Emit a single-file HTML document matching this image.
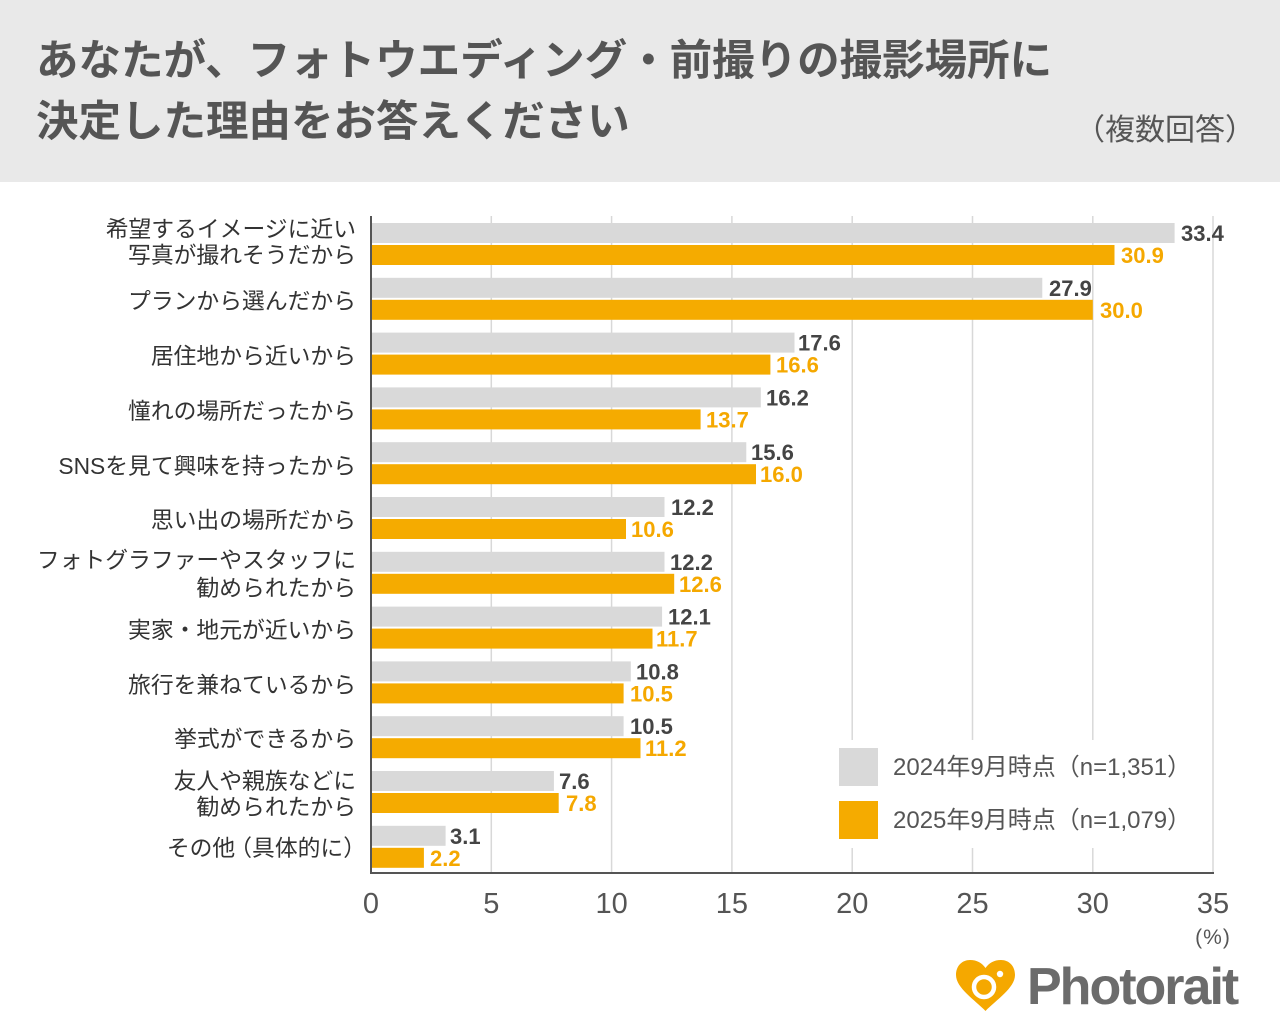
<!DOCTYPE html>
<html>
<head>
<meta charset="utf-8">
<style>
html,body{margin:0;padding:0;background:#fff;}
body{width:1280px;height:1036px;overflow:hidden;}
svg{display:block;}
text{font-family:"Liberation Sans","Noto Sans CJK JP",sans-serif;}
</style>
</head>
<body>
<svg width="1280" height="1036" viewBox="0 0 1280 1036" xmlns="http://www.w3.org/2000/svg">
  <!-- header -->
  <rect x="0" y="0" width="1280" height="182" fill="#e9e9e9"/>
  <text x="36" y="75" font-size="42.5" font-weight="bold" fill="#555">あなたが、フォトウエディング・前撮りの撮影場所に</text>
  <text x="36" y="136" font-size="42.5" font-weight="bold" fill="#555">決定した理由をお答えください</text>
  <text x="1255" y="140" font-size="30" fill="#555" text-anchor="end">（複数回答）</text>

  <!-- gridlines -->
  <g stroke="#d8d8d8" stroke-width="1.5">
    <line x1="491.3" y1="216" x2="491.3" y2="873"/>
    <line x1="611.6" y1="216" x2="611.6" y2="873"/>
    <line x1="731.9" y1="216" x2="731.9" y2="873"/>
    <line x1="852.2" y1="216" x2="852.2" y2="873"/>
    <line x1="972.5" y1="216" x2="972.5" y2="873"/>
    <line x1="1092.8" y1="216" x2="1092.8" y2="873"/>
    <line x1="1213" y1="216" x2="1213" y2="873"/>
  </g>

  <!-- legend box (white, covers gridlines) -->
  <rect x="832" y="740" width="370" height="108" fill="#fff"/>
  <rect x="839" y="748" width="39" height="38" fill="#d9d9d9"/>
  <rect x="839" y="801" width="39" height="38" fill="#f5ab00"/>
  <text x="893" y="775" font-size="24" fill="#555">2024年9月時点（n=1,351）</text>
  <text x="893" y="828" font-size="24" fill="#555">2025年9月時点（n=1,079）</text>

  <!-- bars -->
  <g>
    <rect x="371" y="223" width="803.6" height="20" fill="#d9d9d9"/>
    <rect x="371" y="245" width="743.5" height="20" fill="#f5ab00"/>
    <rect x="371" y="277.8" width="671.3" height="20" fill="#d9d9d9"/>
    <rect x="371" y="299.8" width="721.8" height="20" fill="#f5ab00"/>
    <rect x="371" y="332.6" width="423.5" height="20" fill="#d9d9d9"/>
    <rect x="371" y="354.6" width="399.4" height="20" fill="#f5ab00"/>
    <rect x="371" y="387.4" width="389.8" height="20" fill="#d9d9d9"/>
    <rect x="371" y="409.4" width="329.6" height="20" fill="#f5ab00"/>
    <rect x="371" y="442.2" width="375.3" height="20" fill="#d9d9d9"/>
    <rect x="371" y="464.2" width="385.0" height="20" fill="#f5ab00"/>
    <rect x="371" y="497" width="293.5" height="20" fill="#d9d9d9"/>
    <rect x="371" y="519" width="255.0" height="20" fill="#f5ab00"/>
    <rect x="371" y="551.8" width="293.5" height="20" fill="#d9d9d9"/>
    <rect x="371" y="573.8" width="303.2" height="20" fill="#f5ab00"/>
    <rect x="371" y="606.6" width="291.1" height="20" fill="#d9d9d9"/>
    <rect x="371" y="628.6" width="281.5" height="20" fill="#f5ab00"/>
    <rect x="371" y="661.4" width="259.8" height="20" fill="#d9d9d9"/>
    <rect x="371" y="683.4" width="252.6" height="20" fill="#f5ab00"/>
    <rect x="371" y="716.2" width="252.6" height="20" fill="#d9d9d9"/>
    <rect x="371" y="738.2" width="269.5" height="20" fill="#f5ab00"/>
    <rect x="371" y="771" width="182.9" height="20" fill="#d9d9d9"/>
    <rect x="371" y="793" width="187.7" height="20" fill="#f5ab00"/>
    <rect x="371" y="825.8" width="74.6" height="20" fill="#d9d9d9"/>
    <rect x="371" y="847.8" width="52.9" height="20" fill="#f5ab00"/>
  </g>

  <!-- value labels -->
  <g font-size="22" font-weight="bold">
    <g fill="#444">
      <text x="1181" y="241">33.4</text>
      <text x="1049" y="295.8">27.9</text>
      <text x="798" y="350.6">17.6</text>
      <text x="766" y="405.4">16.2</text>
      <text x="751" y="460.2">15.6</text>
      <text x="671" y="515">12.2</text>
      <text x="670" y="569.8">12.2</text>
      <text x="668" y="624.6">12.1</text>
      <text x="636" y="679.4">10.8</text>
      <text x="630" y="734.2">10.5</text>
      <text x="559" y="789">7.6</text>
      <text x="450" y="843.8">3.1</text>
    </g>
    <g fill="#f5a800">
      <text x="1121" y="263">30.9</text>
      <text x="1100" y="317.8">30.0</text>
      <text x="776" y="372.6">16.6</text>
      <text x="706" y="427.4">13.7</text>
      <text x="760" y="482.2">16.0</text>
      <text x="631" y="537">10.6</text>
      <text x="679" y="591.8">12.6</text>
      <text x="656" y="646.6">11.7</text>
      <text x="630" y="701.4">10.5</text>
      <text x="645" y="756.2">11.2</text>
      <text x="566" y="811">7.8</text>
      <text x="430" y="865.8">2.2</text>
    </g>
  </g>

  <!-- axes -->
  <line x1="371" y1="216" x2="371" y2="874" stroke="#555" stroke-width="2"/>
  <line x1="370" y1="873" x2="1214" y2="873" stroke="#555" stroke-width="2"/>

  <!-- category labels -->
  <g font-size="22.8" fill="#333" text-anchor="end">
    <text x="356" y="237">希望するイメージに近い</text>
    <text x="356" y="263">写真が撮れそうだから</text>
    <text x="356" y="309">プランから選んだから</text>
    <text x="356" y="364">居住地から近いから</text>
    <text x="356" y="419">憧れの場所だったから</text>
    <text x="356" y="474">SNSを見て興味を持ったから</text>
    <text x="356" y="528">思い出の場所だから</text>
    <text x="356" y="568">フォトグラファーやスタッフに</text>
    <text x="356" y="596">勧められたから</text>
    <text x="356" y="638">実家・地元が近いから</text>
    <text x="356" y="693">旅行を兼ねているから</text>
    <text x="356" y="747">挙式ができるから</text>
    <text x="356" y="789">友人や親族などに</text>
    <text x="356" y="815">勧められたから</text>
    <text x="366" y="856">その他<tspan dx="-6">（</tspan>具体的に）</text>
  </g>

  <!-- x tick labels -->
  <g font-size="29" fill="#555" text-anchor="middle">
    <text x="371" y="913">0</text>
    <text x="491.3" y="913">5</text>
    <text x="611.6" y="913">10</text>
    <text x="731.9" y="913">15</text>
    <text x="852.2" y="913">20</text>
    <text x="972.5" y="913">25</text>
    <text x="1092.8" y="913">30</text>
    <text x="1213" y="913">35</text>
  </g>
  <text x="1213" y="944" font-size="21" fill="#555" text-anchor="middle" letter-spacing="1">(%)</text>

  <!-- logo -->
  <path d="M985.5,1011 C975,1000 956,988 956,975 C956,966 962,960 970,960 C977,960 982,963 985.5,968 C989,963 994,960 1001,960 C1009,960 1015,966 1015,975 C1015,988 996,1000 985.5,1011 Z" fill="#f5a800"/>
  <circle cx="984" cy="987" r="10" fill="none" stroke="#fff" stroke-width="4.5"/>
  <circle cx="1000" cy="974" r="3.2" fill="#fff"/>
  <text x="1027" y="1004" font-size="52" font-weight="bold" fill="#6b6b6b" letter-spacing="-2">Photorait</text>
</svg>
</body>
</html>
